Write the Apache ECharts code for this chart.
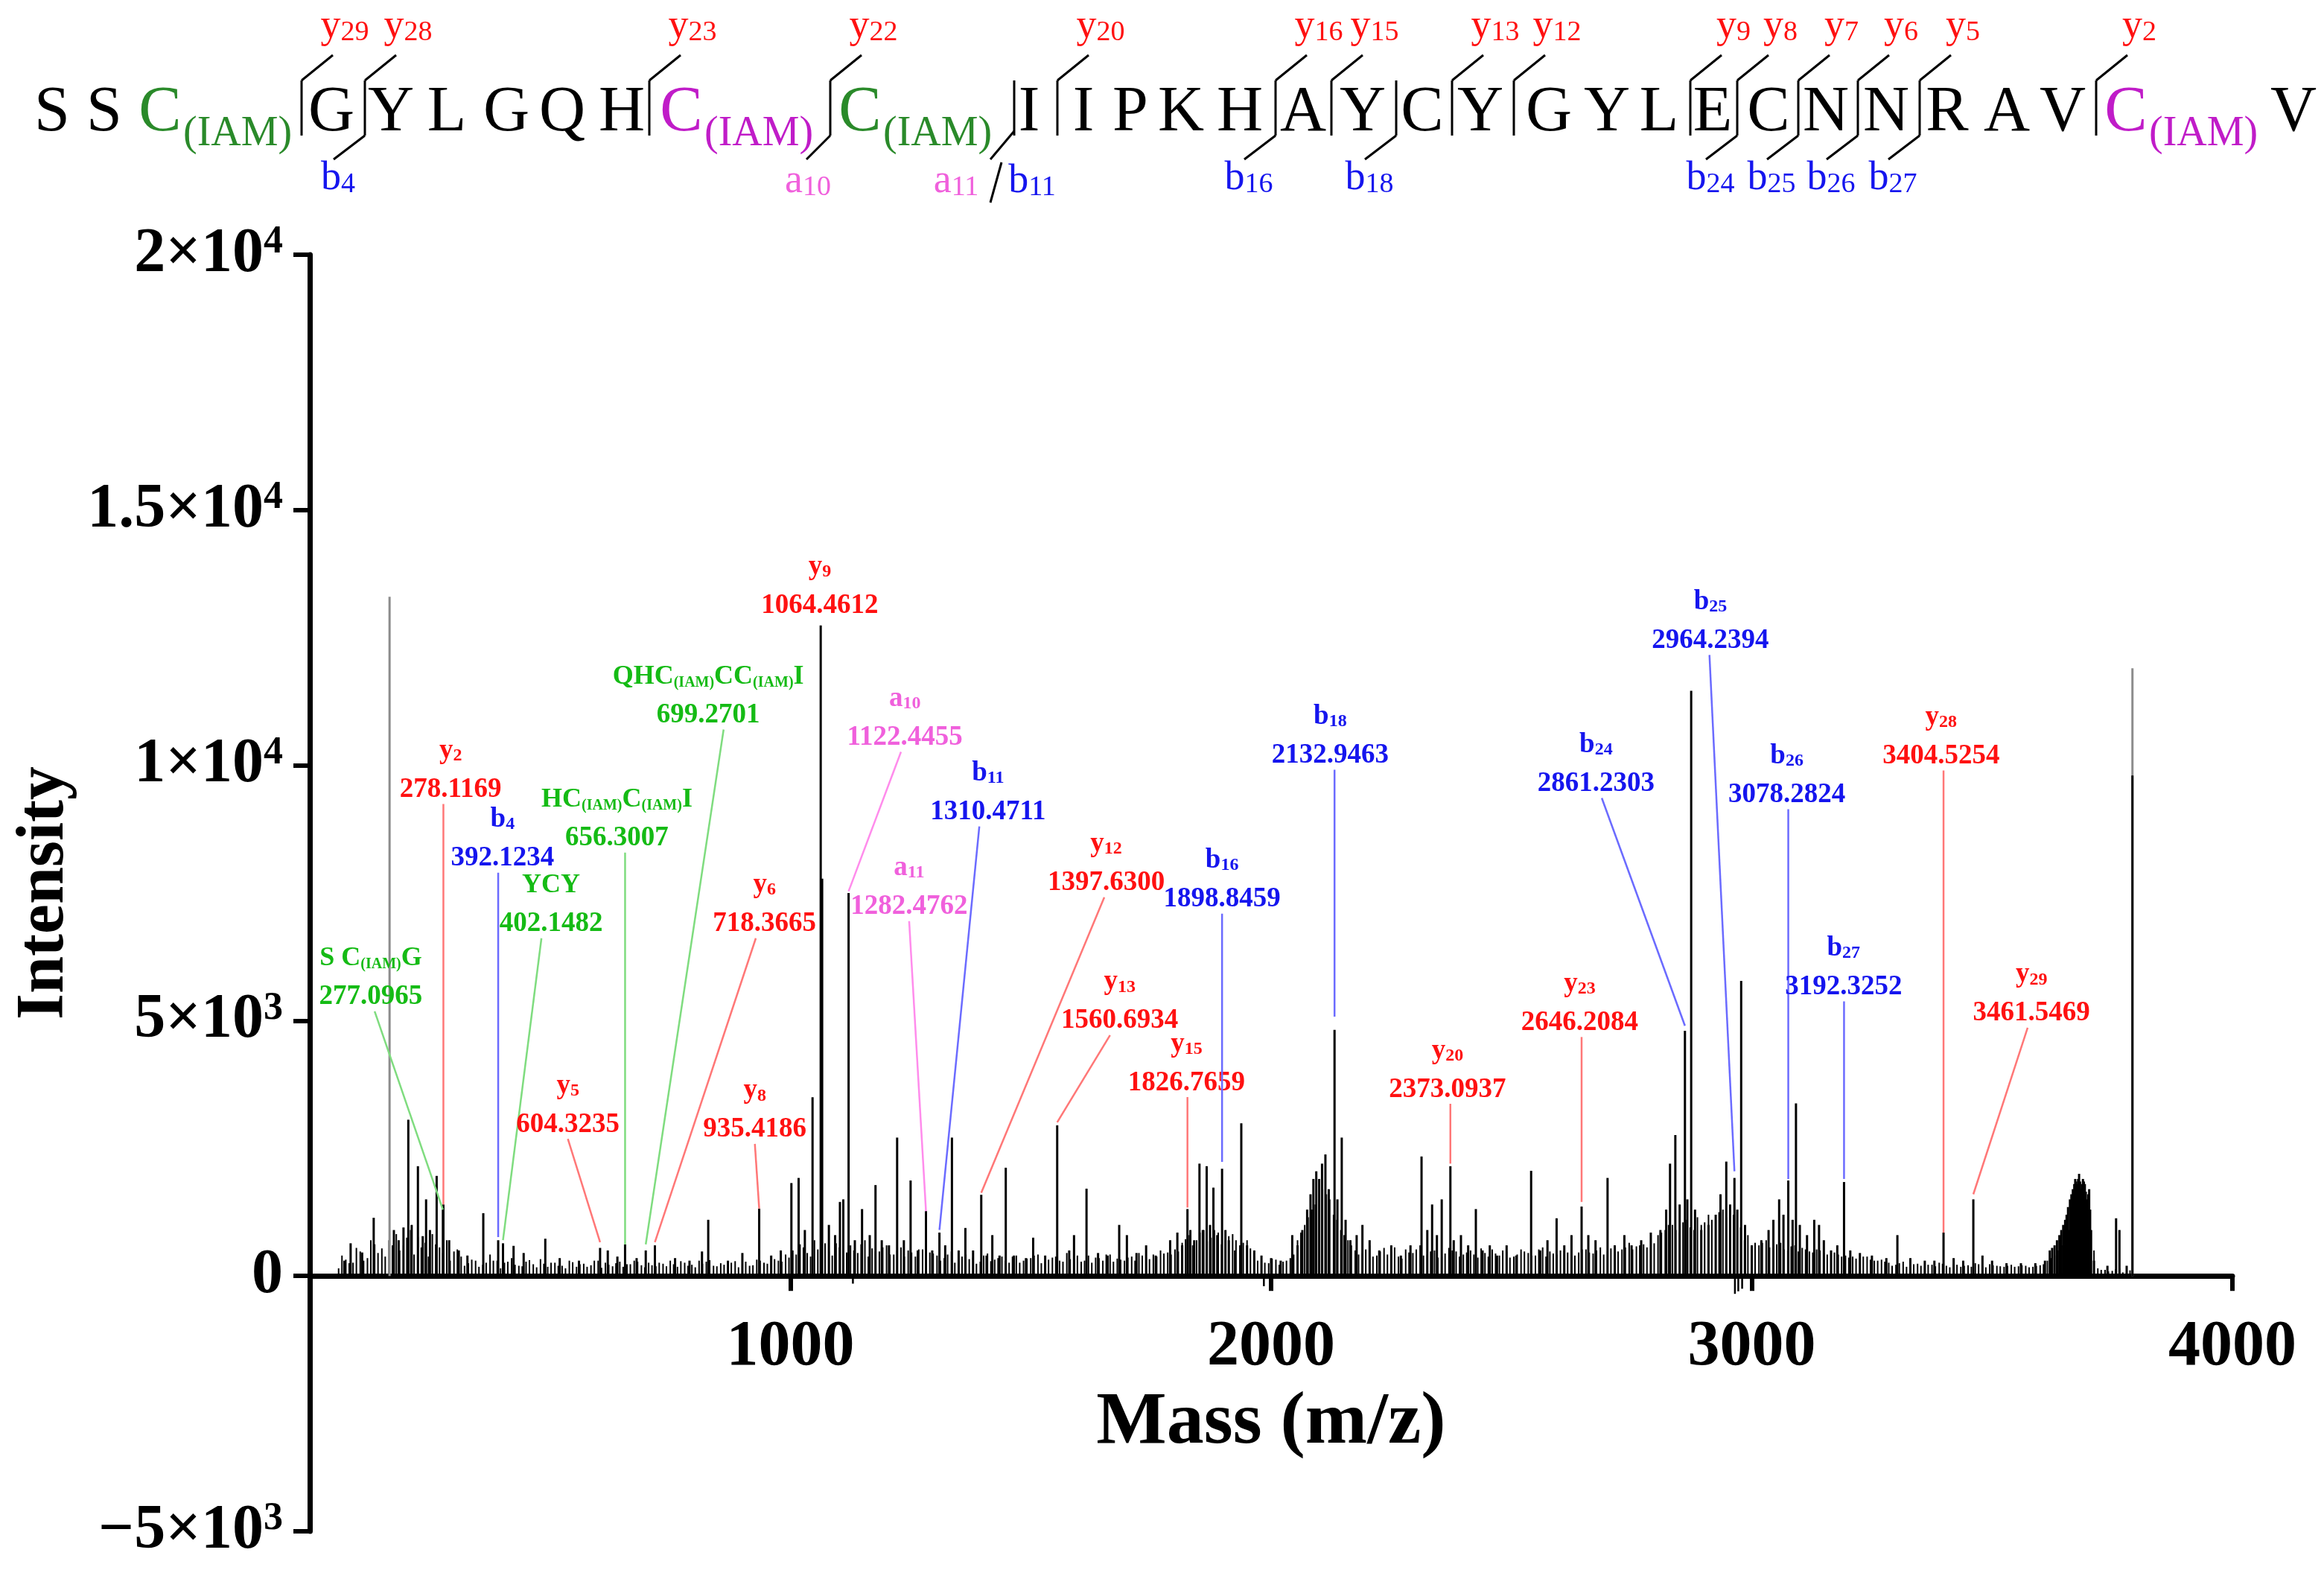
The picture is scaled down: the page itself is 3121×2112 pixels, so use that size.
<!DOCTYPE html>
<html>
<head>
<meta charset="utf-8">
<script src="https://cdn.jsdelivr.net/npm/echarts@6/dist/echarts.min.js"></script>
<style>
html,body{margin:0;padding:0;background:#fff;}
#spectrum{width:3121px;height:2112px;}
</style>
</head>
<body>
<div id="spectrum"></div>
<script>
// peptide sequence and fragment ions
var residues = ['S','S','C','G','Y','L','G','Q','H','C','C','I','I','P','K','H','A','Y','C','Y','G','Y','L','E','C','N','N','R','A','V','C','V'];
var iamResidues = [3, 10, 11, 31];          // 1-based positions carrying (IAM)
var iamColors = ['#2a8a2a', '#c01cc8', '#2a8a2a', '#c01cc8'];
var yIons = [29, 28, 23, 22, 20, 16, 15, 13, 12, 9, 8, 7, 6, 5, 2];
var bIons = [4, 16, 18, 24, 25, 26, 27];
var aIons = [10];
var abIons = [11];                           // a11/b11 share one cut

// y ticks
var yMin = -5000, yMax = 20000;
var yTickVals = [-5000, 0, 5000, 10000, 15000, 20000];
var yTickMant = ['\u22125', '0', '5', '1', '1.5', '2'];
var yTickExp = ['3', '', '3', '4', '4', '4'];
var xTickVals = [1000, 2000, 3000, 4000];

// spectrum peaks [m/z, intensity]
var peaks = [
  [72,300],[85,640],[109,460],[133,1140],[175,900],[185,700],[195,950],[205,3060],[212,1000],[225,2150],
  [235,780],[242,1500],[250,900],[264,1960],[277,1300],[278,1400],[290,700],[310,500],[328,400],[361,1230],
  [392,700],[402,640],[424,590],[445,450],[490,730],[520,350],[560,300],[604,550],[620,500],[640,380],
  [656,620],[680,350],[699,500],[718,600],[760,350],[790,300],[816,480],[829,1100],[870,300],[900,450],
  [935,1320],[960,400],[980,500],[1002,1820],[1017,1920],[1030,900],[1046,3500],[1063,12740],[1066,7780],[1080,1000],
  [1093,800],[1103,1450],[1110,1500],[1121,7500],[1134,700],[1149,1310],[1165,800],[1177,1780],[1190,700],[1205,600],
  [1222,2710],[1236,700],[1250,1870],[1265,500],[1282,1270],[1295,500],[1310,850],[1322,600],[1336,2710],[1350,500],
  [1364,940],[1380,500],[1397,1590],[1408,400],[1420,800],[1435,400],[1448,2120],[1465,400],[1490,350],[1505,750],
  [1530,400],[1555,2950],[1580,500],[1590,800],[1616,1710],[1640,450],[1660,400],[1684,1000],[1700,800],[1720,450],
  [1740,600],[1760,400],[1790,700],[1805,850],[1815,600],[1826,1310],[1832,900],[1840,700],[1851,2200],[1858,900],
  [1866,2150],[1873,1000],[1880,1730],[1888,800],[1898,2100],[1905,900],[1912,700],[1925,500],[1938,2990],[1950,600],
  [1965,500],[1980,400],[2000,350],[2020,300],[2044,800],[2055,600],[2065,900],[2075,1300],[2082,1600],[2088,1900],
  [2094,2050],[2100,1900],[2106,2200],[2113,2380],[2120,1700],[2132,4820],[2138,1500],[2147,2710],[2155,1100],[2165,700],
  [2178,800],[2190,1000],[2205,700],[2225,500],[2250,600],[2270,400],[2290,600],[2313,2340],[2325,900],[2335,1400],
  [2345,800],[2355,1500],[2373,2150],[2380,700],[2395,800],[2410,600],[2426,1310],[2440,500],[2455,600],[2470,400],
  [2490,600],[2510,400],[2541,2060],[2560,500],[2575,700],[2594,1130],[2610,600],[2625,800],[2646,1360],[2660,800],
  [2675,700],[2700,1920],[2715,600],[2735,800],[2750,600],[2770,700],[2790,850],[2810,900],[2822,1300],[2830,2200],
  [2841,2760],[2850,1400],[2861,4800],[2866,1500],[2874,11460],[2882,1300],[2895,900],[2910,1000],[2925,1200],[2935,1600],
  [2947,2240],[2955,1400],[2964,1920],[2970,1300],[2978,5780],[2986,1000],[3000,600],[3020,700],[3035,900],[3045,1100],
  [3057,1500],[3066,1200],[3076,1870],[3085,1100],[3092,3380],[3100,1000],[3115,800],[3130,1100],[3140,1000],[3150,700],
  [3165,500],[3178,600],[3192,1840],[3205,500],[3225,450],[3250,400],[3280,350],[3303,800],[3330,350],[3360,300],
  [3380,300],[3399,850],[3420,350],[3440,300],[3461,1500],[3480,400],[3500,300],[3530,250],[3560,250],[3590,250],
  [3610,300],[3620,500],[3625,550],[3630,600],[3635,700],[3640,800],[3644,900],[3648,1000],[3652,1100],[3655,1200],
  [3658,1350],[3662,1500],[3665,1600],[3668,1700],[3671,1800],[3673,1900],[3675,1850],[3677,1800],[3679,1900],[3681,2000],
  [3683,1850],[3685,1700],[3687,1800],[3689,1900],[3691,1850],[3693,1800],[3695,1650],[3698,1500],[3700,1600],[3702,1700],
  [3704,1300],[3706,900],[3712,300],[3740,200],[3758,1130],[3765,900],[3780,200],[3792,9800]
];
var greyPeaks = [[166,13300],[3792,11900]];
var dipPeaks = [[1130,-150],[1985,-200],[2965,-350],[2972,-300],[2980,-250]];

// baseline noise, one value every 15 m/z (two interleaved traces)
var noiseStart = 60;
var noiseStart2 = 67;
var noiseStep = 15;
var noiseInt = [
  150,320,260,480,350,620,540,700,820,600,900,760,650,820,560,700,480,
  380,250,300,220,420,300,260,350,200,280,230,330,180,260,200,300,180,240,210,300,260,190,280,230,300,210,260,190,240,300,180,260,220,300,280,200,250,180,290,240,200,320,260,380,300,420,
  500,620,450,700,560,480,640,520,600,450,700,540,480,600,420,560,500,380,520,460,
  400,350,480,300,420,360,280,440,320,380,260,400,300,350,420,280,360,300,450,330,280,400,360,300,420,340,300,380,450,360,420,500,460,520,
  650,800,700,900,750,850,700,820,600,700,
  380,300,250,320,280,350,
  700,1000,1300,1500,1600,1200,900,700,
  500,450,600,400,550,480,380,520,450,600,420,500,380,550,480,420,500,360,450,520,400,480,380,520,450,400,560,480,420,500,380,460,520,440,560,480,600,520,650,580,620,700,
  800,900,1000,850,1100,900,1000,1200,1100,1300,1000,900,700,600,
  600,700,550,650,500,600,550,480,520,450,500,420,400,380,350,380,300,320,
  260,220,280,200,240,180,220,260,200,240,180,210,250,190,230,200,180,220,190,200,180,210,
  300,400,600,900,1000,900,700,150,
  120,100,150,80
];
var noiseInt2 = [
  400,250,550,300,700,450,380,600,500,750,420,560,380,620,450,300,520,
  200,320,180,260,300,150,280,220,190,310,170,240,260,200,150,270,230,180,300,160,220,250,180,230,280,170,210,260,190,230,290,200,170,240,310,190,220,260,170,280,210,300,240,330,280,360,
  420,560,380,520,640,400,560,460,500,620,380,480,560,420,500,380,460,520,360,440,
  300,420,260,380,330,240,400,290,350,300,380,260,340,400,250,320,380,280,330,400,300,260,350,420,280,320,360,300,400,330,380,440,420,480,
  720,600,850,680,900,620,780,700,650,540,
  300,260,340,220,300,420,
  850,1150,1400,1700,1500,1100,800,600,
  420,520,380,480,420,560,340,460,520,400,480,360,440,500,380,460,420,540,380,440,500,360,420,480,400,520,380,440,500,460,400,520,460,500,420,540,480,560,520,600,560,640,
  850,1000,900,1050,950,1150,1050,1100,1250,1150,1200,950,800,650,
  650,560,620,520,580,480,520,460,500,420,460,380,360,340,380,320,300,280,
  200,250,180,230,200,220,190,240,170,220,200,180,230,170,210,190,200,180,210,170,200,230,
  350,500,750,950,1100,800,500,120,
  90,130,70,110
];

// annotations: [ion label, m/z text, kind, peak m/z, peak intensity, text m/z, text intensity, line start m/z]
var annotations = [
  ['{n|S C}{s|(IAM)}{n|G}', '277.0965', 'g', 277, 1300, 127, 5183, 135],
  ['{n|y}{s|2}', '278.1169', 'y', 278, 1400, 293, 9242, 278],
  ['{n|b}{s|4}', '392.1234', 'b', 392, 760, 401, 7899, 392],
  ['{n|YCY}', '402.1482', 'g', 402, 700, 502, 6614, 482],
  ['{n|HC}{s|(IAM)}{n|C}{s|(IAM)}{n|I}', '656.3007', 'g', 656, 620, 639, 8293, 656],
  ['{n|QHC}{s|(IAM)}{n|CC}{s|(IAM)}{n|I}', '699.2701', 'g', 699, 620, 829, 10702, 861],
  ['{n|y}{s|5}', '604.3235', 'y', 604, 660, 537, 2686, 537],
  ['{n|y}{s|6}', '718.3665', 'y', 718, 660, 946, 6614, 928],
  ['{n|y}{s|8}', '935.4186', 'y', 935, 1320, 926, 2587, 926],
  ['{n|y}{s|9}', '1064.4612', 'y', null, null, 1061, 12848, null],
  ['{n|a}{s|10}', '1122.4455', 'a', 1121, 7534, 1238, 10264, 1230],
  ['{n|a}{s|11}', '1282.4762', 'a', 1282, 1270, 1247, 6950, 1247],
  ['{n|b}{s|11}', '1310.4711', 'b', 1310, 900, 1411, 8804, 1393],
  ['{n|y}{s|12}', '1397.6300', 'y', 1397, 1630, 1657, 7417, 1653],
  ['{n|y}{s|13}', '1560.6934', 'y', 1555, 3008, 1685, 4716, 1665],
  ['{n|y}{s|15}', '1826.7659', 'y', 1826, 1340, 1824, 3504, 1826],
  ['{n|b}{s|16}', '1898.8459', 'b', 1898, 2234, 1898, 7096, 1898],
  ['{n|b}{s|18}', '2132.9463', 'b', 2132, 5080, 2123, 9913, 2132],
  ['{n|y}{s|20}', '2373.0937', 'y', 2373, 2200, 2367, 3372, 2373],
  ['{n|y}{s|23}', '2646.2084', 'y', 2646, 1450, 2642, 4680, 2646],
  ['{n|b}{s|24}', '2861.2303', 'b', 2861, 4900, 2676, 9359, 2688],
  ['{n|b}{s|25}', '2964.2394', 'b', 2964, 2050, 2914, 12162, 2912],
  ['{n|b}{s|26}', '3078.2824', 'b', 3076, 1900, 3073, 9140, 3076],
  ['{n|b}{s|27}', '3192.3252', 'b', 3192, 1900, 3191, 5378, 3192],
  ['{n|y}{s|28}', '3404.5254', 'y', 3399, 850, 3394, 9899, 3399],
  ['{n|y}{s|29}', '3461.5469', 'y', 3461, 1600, 3582, 4862, 3574]
];

var SERIF = '"Liberation Serif", "Times New Roman", serif';
var textColors = {y: '#ff1111', b: '#1515ee', a: '#f060dc', g: '#15bb15'};
var lineColors = {y: '#ff7777', b: '#6b6bff', a: '#ff8cec', g: '#7fdc7f'};

// layout of the sequence header (pixels)
var residueX = [70,140,215,445,525,600,680,755,835,915,1155,1382,1455,1518,1586,1665,1750,1830,1910,1988,2080,2158,2228,2300,2375,2452,2533,2615,2695,2770,2855,3080];
var cutX = {3:405, 4:490, 9:872, 10:1115, 11:1362, 12:1420, 16:1713, 17:1788, 18:1875, 19:1950, 20:2033, 23:2270, 24:2333, 25:2415, 26:2495, 27:2578, 30:2815};
var seqY = 152, cutTop = 108, cutBottom = 182;

// plot area (pixels)
var gridTop = 342, gridBottom = 56, chartH = 2112;
var plotH = chartH - gridTop - gridBottom;
var zeroOffset = -plotH * (0 - yMin) / (yMax - yMin);   // lift the x axis to intensity 0

function ionRich(color, big, small, weight) {
    var w = weight ? weight + ' ' : '';
    return {
        n: {font: w + big + 'px ' + SERIF, fill: color, lineHeight: big},
        s: {font: w + small + 'px ' + SERIF, fill: color, verticalAlign: 'bottom', lineHeight: Math.round(small * 0.55)}
    };
}
function seg(x1, y1, x2, y2, color, w) {
    return {type: 'line', silent: true, shape: {x1: x1, y1: y1, x2: x2, y2: y2},
        style: {stroke: color || '#000', lineWidth: w || 3}};
}
function txt(x, y, text, style) {
    var s = {text: text, x: x, y: y};
    for (var k in style) s[k] = style[k];
    return {type: 'text', silent: true, style: s};
}

function buildHeader() {
    var els = [];
    residues.forEach(function (r, i) {
        var pos = i + 1;
        var m = iamResidues.indexOf(pos);
        var color = m >= 0 ? iamColors[m] : '#000';
        els.push(txt(residueX[i], seqY, r, {font: '86px ' + SERIF, fill: color,
            align: 'center', textAlign: 'center', verticalAlign: 'middle', textVerticalAlign: 'middle'}));
        if (m >= 0) {
            els.push(txt(residueX[i] + 31, seqY + 28, '(IAM)', {font: '56px ' + SERIF, fill: color,
                align: 'left', textAlign: 'left', verticalAlign: 'middle', textVerticalAlign: 'middle'}));
        }
    });
    Object.keys(cutX).forEach(function (k) {
        var gx = cutX[k];
        els.push(seg(gx, cutTop, gx, cutBottom));
    });
    var labelStyle = function (color) {
        return {rich: ionRich(color, 54, 38), fill: color, align: 'center', textAlign: 'center',
            verticalAlign: 'middle', textVerticalAlign: 'middle'};
    };
    yIons.forEach(function (n) {
        var gx = cutX[32 - n];
        els.push(seg(gx, cutTop, gx + 42, 74));
        els.push(txt(gx + 58, 36, '{n|y}{s|' + n + '}', labelStyle(textColors.y)));
    });
    bIons.forEach(function (n) {
        var gx = cutX[n];
        els.push(seg(gx, cutBottom, gx - 42, 214));
        els.push(txt(gx - 36, 240, '{n|b}{s|' + n + '}', labelStyle(textColors.b)));
    });
    aIons.forEach(function (n) {
        var gx = cutX[n];
        els.push(seg(gx, cutBottom, gx - 32, 214));
        els.push(txt(gx - 30, 244, '{n|a}{s|' + n + '}', labelStyle(textColors.a)));
    });
    abIons.forEach(function (n) {
        var gx = cutX[n];
        els.push(seg(gx, cutBottom - 6, gx - 32, 214));
        els.push(seg(gx - 17, 218, gx - 32, 272));
        els.push(txt(gx - 78, 244, '{n|a}{s|' + n + '}', labelStyle(textColors.a)));
        els.push(txt(gx + 24, 244, '{n|b}{s|' + n + '}', labelStyle(textColors.b)));
    });
    return els;
}

function stick(color, width) {
    return function (params, api) {
        var mz = api.value(0);
        var p0 = api.coord([mz, 0]);
        var p1 = api.coord([mz, api.value(1)]);
        return {type: 'line', shape: {x1: p0[0], y1: p0[1], x2: p1[0], y2: p1[1]},
            style: {stroke: color, lineWidth: width}};
    };
}

function renderAnnotation(params, api) {
    var a = annotations[params.dataIndex];
    var color = textColors[a[2]];
    var anchor = api.coord([a[5], a[6]]);
    var children = [];
    if (a[3] != null) {
        var start = api.coord([a[7], a[6]]);
        var end = api.coord([a[3], a[4]]);
        children.push({type: 'line', shape: {x1: start[0], y1: start[1], x2: end[0], y2: end[1]},
            style: {stroke: lineColors[a[2]], lineWidth: 2.5}});
    }
    // m/z value, baseline just above the leader line
    children.push({type: 'text', style: {text: a[1], x: anchor[0], y: anchor[1] - 19, fill: color,
        font: 'bold 37px ' + SERIF, align: 'center', textAlign: 'center',
        verticalAlign: 'middle', textVerticalAlign: 'middle'}});
    // ion name above it
    var green = a[2] === 'g';
    children.push({type: 'text', style: {text: a[0], x: anchor[0], y: anchor[1] - 71, fill: color,
        rich: ionRich(color, green ? 36 : 37, green ? 20 : 24, 'bold'), align: 'center', textAlign: 'center',
        verticalAlign: 'middle', textVerticalAlign: 'middle'}});
    return {type: 'group', children: children};
}

var noiseData = noiseInt.map(function (v, i) { return [noiseStart + i * noiseStep, v]; })
    .concat(noiseInt2.map(function (v, i) { return [noiseStart2 + i * noiseStep, v]; }));

var chart = echarts.init(document.getElementById('spectrum'));
var option = {
    animation: false,
    backgroundColor: '#fff',
    grid: {left: 416, right: 123, top: gridTop, bottom: gridBottom, containLabel: false, outerBoundsMode: 'none'},
    xAxis: {
        type: 'value', min: 0, max: 4000, interval: 1000,
        position: 'bottom', offset: zeroOffset,
        axisLine: {onZero: false, lineStyle: {color: '#000', width: 7}},
        axisTick: {show: true, length: 20, lineStyle: {color: '#000', width: 6}},
        splitLine: {show: false},
        axisLabel: {
            margin: 54, color: '#000', fontFamily: SERIF, fontWeight: 'bold', fontSize: 86,
            formatter: function (v) { return xTickVals.indexOf(v) >= 0 ? String(v) : ''; }
        },
        name: 'Mass (m/z)', nameLocation: 'middle', nameGap: 148,
        nameTextStyle: {color: '#000', fontFamily: SERIF, fontWeight: 'bold', fontSize: 100}
    },
    yAxis: {
        type: 'value', min: yMin, max: yMax, interval: 5000,
        axisLine: {show: true, lineStyle: {color: '#000', width: 7}},
        axisTick: {show: true, length: 22, lineStyle: {color: '#000', width: 6}},
        splitLine: {show: false},
        axisLabel: {
            margin: 36, color: '#000',
            formatter: function (v) {
                var i = yTickVals.indexOf(v);
                if (i < 0) return '';
                return yTickExp[i] ? '{m|' + yTickMant[i] + '\u00d710}{e|' + yTickExp[i] + '}' : '{m|' + yTickMant[i] + '}';
            },
            rich: {
                m: {fontFamily: SERIF, fontWeight: 'bold', fontSize: 84, color: '#000', lineHeight: 84},
                e: {fontFamily: SERIF, fontWeight: 'bold', fontSize: 52, color: '#000', verticalAlign: 'top', lineHeight: 40}
            }
        },
        name: 'Intensity', nameLocation: 'middle', nameGap: 300, nameRotate: 90,
        nameTextStyle: {color: '#000', fontFamily: SERIF, fontWeight: 'bold', fontSize: 90}
    },
    graphic: {elements: buildHeader()},
    series: [
        {type: 'custom', name: 'noise', data: noiseData, encode: {x: 0, y: 1}, renderItem: stick('#000', 2), silent: true},
        {type: 'custom', name: 'dips', data: dipPeaks, encode: {x: 0, y: 1}, renderItem: stick('#000', 2.5), silent: true},
        {type: 'custom', name: 'grey', data: greyPeaks, encode: {x: 0, y: 1}, renderItem: stick('#8c8c8c', 3), silent: true},
        {type: 'custom', name: 'peaks', data: peaks, encode: {x: 0, y: 1}, renderItem: stick('#000', 3), silent: true},
        {type: 'custom', name: 'labels', data: annotations.map(function (a) { return [a[5], a[6]]; }),
            encode: {x: 0, y: 1}, renderItem: renderAnnotation, silent: true, clip: false, z: 5}
    ]
};
chart.setOption(option);
</script>
</body>
</html>
